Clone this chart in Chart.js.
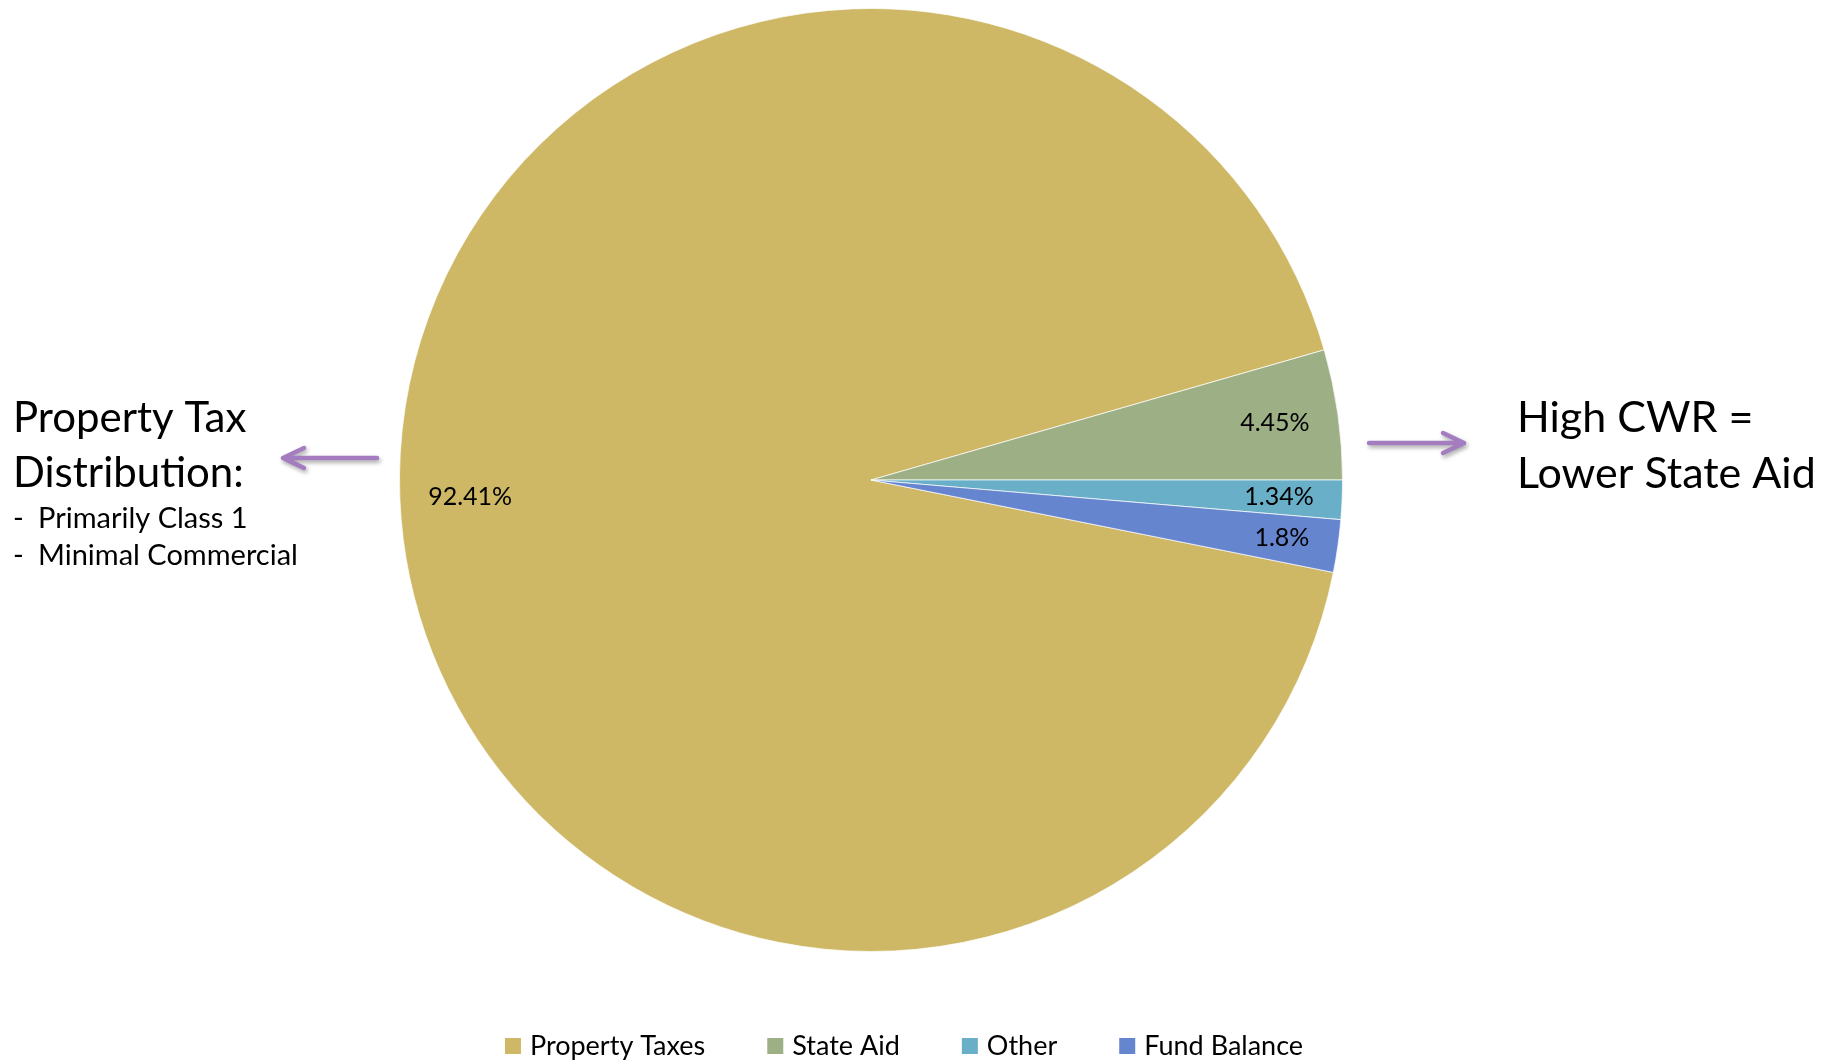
<!DOCTYPE html>
<html>
<head>
<meta charset="utf-8">
<title>Revenue Sources</title>
<script src="https://cdn.jsdelivr.net/npm/chart.js@4.4.1/dist/chart.umd.min.js"></script>
<style>
    html, body { margin: 0; padding: 0; background: #fff; }
    #revenueChart { display: block; }
</style>
</head>
<body>
<canvas id="revenueChart" width="1837" height="1060"></canvas>
<script>
// Revenue mix (percent of total)
const categories = ["Property Taxes", "State Aid", "Other", "Fund Balance"];
const shares = [92.41, 4.45, 1.34, 1.8];
const sliceColors = ["#CEB866", "#9DAF84", "#6AAFC8", "#6685CF"];

// Side notes
const leftHeading = ["Property Tax", "Distribution:"];
const leftBullets = ["Primarily Class 1", "Minimal Commercial"];
const rightHeading = ["High CWR =", "Lower State Aid"];

const FONT = "Lato, 'Open Sans', sans-serif";
const ARROW_COLOR = "#A47CC0";

// State Aid / Other boundary sits on the horizontal, slices run clockwise
const startRotation = 90 + (shares[2] + shares[3]) * 3.6;

const sliceLabels = {
    id: "sliceLabels",
    afterDatasetsDraw(chart) {
        const ctx = chart.ctx;
        const meta = chart.getDatasetMeta(0);
        ctx.save();
        ctx.font = `25px ${FONT}`;
        ctx.fillStyle = "#000";
        ctx.textAlign = "center";
        ctx.textBaseline = "middle";
        meta.data.forEach((arc, i) => {
            const { x, y, startAngle, endAngle, outerRadius } =
                arc.getProps(["x", "y", "startAngle", "endAngle", "outerRadius"], true);
            const mid = (startAngle + endAngle) / 2;
            const text = shares[i] + "%";
            const w = ctx.measureText(text).width;
            const h = 18;
            const cx = Math.cos(mid), cy = Math.sin(mid);
            const d = outerRadius - 28 - (Math.abs(cx) * w / 2 + Math.abs(cy) * h / 2);
            ctx.fillText(text, x + cx * d, y + cy * d);
        });
        ctx.restore();
    }
};

function drawArrow(ctx, x1, x2, y) {
    const dir = Math.sign(x2 - x1);
    ctx.save();
    ctx.strokeStyle = ARROW_COLOR;
    ctx.lineWidth = 4.5;
    ctx.lineCap = "round";
    ctx.lineJoin = "round";
    ctx.shadowColor = "rgba(0,0,0,0.35)";
    ctx.shadowBlur = 4;
    ctx.shadowOffsetX = 1.5;
    ctx.shadowOffsetY = 2.5;
    ctx.beginPath();
    ctx.moveTo(x1, y);
    ctx.lineTo(x2, y);
    ctx.moveTo(x2 - dir * 21, y - 10);
    ctx.lineTo(x2, y);
    ctx.lineTo(x2 - dir * 21, y + 10);
    ctx.stroke();
    ctx.restore();
}

const sideNotes = {
    id: "sideNotes",
    afterDraw(chart) {
        const ctx = chart.ctx;
        ctx.save();
        ctx.fillStyle = "#000";
        ctx.textAlign = "left";
        ctx.textBaseline = "alphabetic";

        ctx.font = `42px ${FONT}`;
        leftHeading.forEach((t, i) => ctx.fillText(t, 13, 432 + i * 55));
        ctx.font = `43px ${FONT}`;
        rightHeading.forEach((t, i) => ctx.fillText(t, 1517, 432 + i * 56));

        ctx.font = `29px ${FONT}`;
        leftBullets.forEach((t, i) => {
            ctx.fillText("-", 13, 528 + i * 37);
            ctx.fillText(t, 38, 528 + i * 37);
        });
        ctx.restore();

        drawArrow(ctx, 377, 283, 458);
        drawArrow(ctx, 1369, 1464, 443);
    }
};

// Legend row along the bottom, drawn from the same categories and colours
const bottomLegend = {
    id: "bottomLegend",
    afterDraw(chart) {
        const ctx = chart.ctx;
        const box = 16, textGap = 9, itemGap = 62;
        ctx.save();
        ctx.font = `27px ${FONT}`;
        ctx.textBaseline = "alphabetic";
        ctx.textAlign = "left";
        const widths = categories.map(c => box + textGap + ctx.measureText(c).width);
        const total = widths.reduce((a, b) => a + b, 0) + itemGap * (categories.length - 1);
        let x = 904 - total / 2;
        categories.forEach((c, i) => {
            ctx.fillStyle = sliceColors[i];
            ctx.fillRect(x, 1038, box, box);
            ctx.fillStyle = "#000";
            ctx.fillText(c, x + box + textGap, 1055);
            x += widths[i] + itemGap;
        });
        ctx.restore();
    }
};

new Chart(document.getElementById("revenueChart"), {
    type: "pie",
    data: {
        labels: categories,
        datasets: [{
            data: shares,
            backgroundColor: sliceColors,
            borderColor: "rgba(255,255,255,0.7)",
            borderWidth: 1
        }]
    },
    options: {
        responsive: false,
        animation: false,
        rotation: startRotation,
        layout: { padding: { top: 8, bottom: 108, left: 0, right: 95 } },
        plugins: {
            legend: { display: false },
            tooltip: { enabled: false }
        }
    },
    plugins: [sliceLabels, sideNotes, bottomLegend]
});
</script>
</body>
</html>
